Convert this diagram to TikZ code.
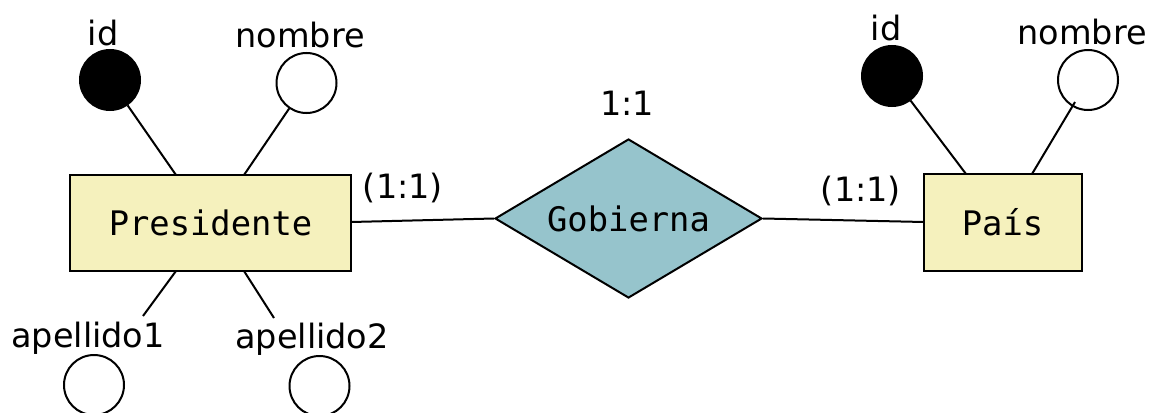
\documentclass[tikz,border=0pt]{standalone}
\usepackage{fontspec}
\setmainfont{DejaVu Sans}
\newfontfamily\monof{DejaVu Sans Mono}
\usetikzlibrary{shapes.geometric}
\definecolor{entfill}{RGB}{245,241,189}
\definecolor{relfill}{RGB}{150,196,204}
\begin{document}
\begin{tikzpicture}[x=1pt,y=-1pt,
  lbl/.style={inner sep=0pt,font=\fontsize{33.5}{38}\selectfont},
  ent/.style={draw,line width=2pt,fill=entfill,inner sep=0pt,font=\monof\fontsize{33.8}{40}\selectfont},
  keyattr/.style={circle,draw,line width=2pt,fill=black,minimum size=60pt,inner sep=0pt},
  attr/.style={circle,draw,line width=2pt,fill=white,minimum size=60pt,inner sep=0pt},
  conn/.style={line width=2pt}]
\useasboundingbox (0,0) rectangle (1155,412);
% entities
\node[ent,minimum width=281pt,minimum height=96pt] (pres) at (210.5,223) {Presidente};
\node[ent,minimum width=158pt,minimum height=97pt] (pais) at (1002.5,222.5) {País};
% relationship
\node[draw,line width=2pt,fill=relfill,diamond,minimum width=267pt,minimum height=159pt,inner sep=0pt,aspect=1.68,font=\monof\fontsize{33.8}{40}\selectfont] (gob) at (628.5,218.5) {Gobierna};
% attributes of Presidente
\node[keyattr] (pid) at (110,80) {};
\node[attr] (pnom) at (306.5,83) {};
\node[attr] (pap1) at (94,385) {};
\node[attr] (pap2) at (319.5,386) {};
\node[lbl] (pidl) at (103,33) {id};
\node[lbl] (pnoml) at (300,35) {nombre};
\node[lbl] (pap1l) at (88,338) {apellido1};
\node[lbl] (pap2l) at (312,339) {apellido2};
% attributes of Pais
\node[keyattr] (cid) at (892,76) {};
\node[attr] (cnom) at (1088,80) {};
\node[lbl] (cidl) at (886,28) {id};
\node[lbl] (cnoml) at (1082,32) {nombre};
% cardinality labels
\node[lbl] (card) at (627,103) {1:1};
\node[lbl] (cl) at (403,188) {(1:1)};
\node[lbl] (cr) at (861,191) {(1:1)};
% anchor coordinates
\coordinate (pt1) at (176,175);
\coordinate (pt2) at (244,175);
\coordinate (pb1) at (176,271);
\coordinate (pb2) at (244,271);
\coordinate (a1e) at (143,316);
\coordinate (a2e) at (274,318);
\coordinate (ct1) at (966,174);
\coordinate (ct2) at (1032,174);
\coordinate (pr) at (351,222);
\coordinate (cl1) at (924,222);
% connectors
\draw[conn] (pid) -- (pt1);
\draw[conn] (pnom) -- (pt2);
\draw[conn] (pb1) -- (a1e);
\draw[conn] (pb2) -- (a2e);
\draw[conn] (cid) -- (ct1);
\draw[conn] (cnom.center) ++(-13,22) -- (ct2);
\draw[conn] (pr) -- (gob.west);
\draw[conn] (gob.east) -- (cl1);
\end{tikzpicture}
\end{document}
